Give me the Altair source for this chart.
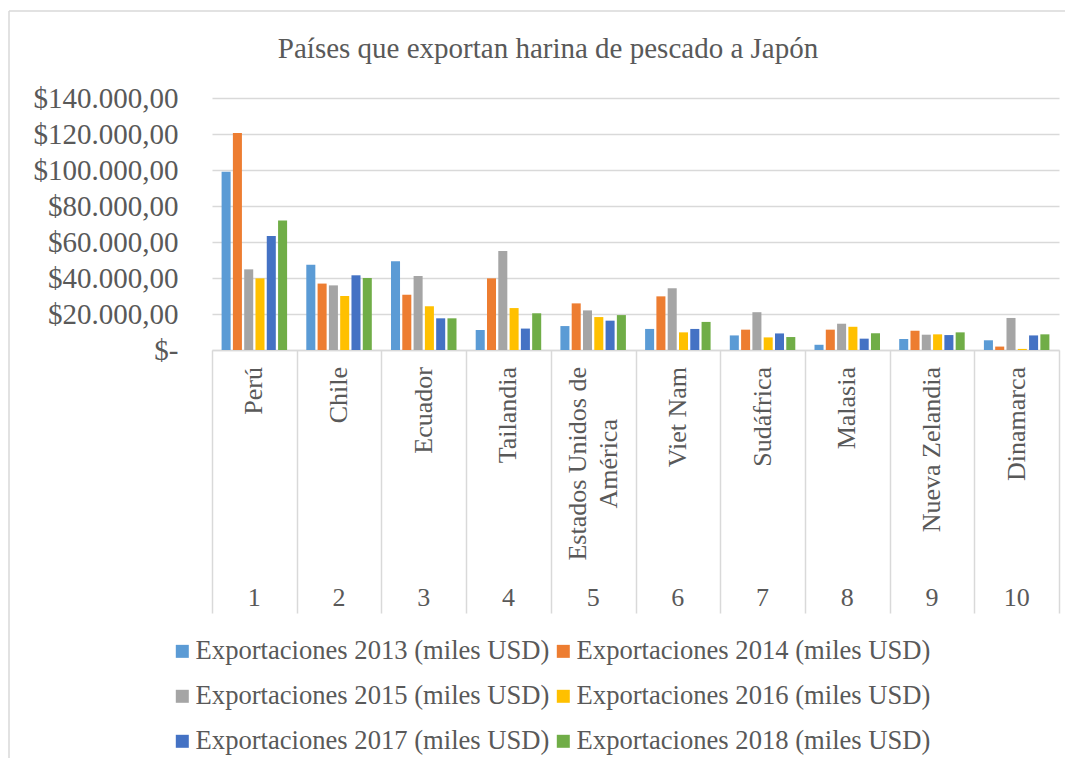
import altair as alt
import pandas as pd

# ---- data ----
ranks = ["1", "2", "3", "4", "5", "6", "7", "8", "9", "10"]
countries = ["Perú", "Chile", "Ecuador", "Tailandia", "Estados Unidos de\nAmérica",
             "Viet Nam", "Sudáfrica", "Malasia", "Nueva Zelandia", "Dinamarca"]
series = ["Exportaciones 2013 (miles USD)", "Exportaciones 2014 (miles USD)",
          "Exportaciones 2015 (miles USD)", "Exportaciones 2016 (miles USD)",
          "Exportaciones 2017 (miles USD)", "Exportaciones 2018 (miles USD)"]
v2013 = [99000, 47400, 49300, 11100, 13300, 11700, 8100, 2900, 6100, 5400]
v2014 = [120500, 36900, 30700, 39800, 25900, 29800, 11300, 11300, 10700, 1900]
v2015 = [44800, 35900, 41100, 55000, 22000, 34300, 21000, 14600, 8500, 17800]
v2016 = [39800, 30000, 24300, 23300, 18300, 9800, 7000, 12900, 8700, 600]
v2017 = [63300, 41500, 17600, 11900, 16300, 11700, 9200, 6300, 8300, 8100]
v2018 = [72000, 40000, 17600, 20400, 19400, 15600, 7200, 9300, 9800, 8700]
colors = ["#5B9BD5", "#ED7D31", "#A5A5A5", "#FFC000", "#4472C4", "#70AD47"]
y_ticks = [0, 20000, 40000, 60000, 80000, 100000, 120000, 140000]
title_text = "Países que exportan harina de pescado a Japón"

rows = []
for s, vals in zip(series, [v2013, v2014, v2015, v2016, v2017, v2018]):
    for r, c, v in zip(ranks, countries, vals):
        rows.append({"rank": r, "serie": s, "valor": v})
df = pd.DataFrame(rows)

lab = pd.DataFrame({
    "rank": ranks,
    "line1": [c.split("\n")[0] for c in countries],
    "line2": [c.split("\n")[1] if "\n" in c else "" for c in countries],
})

W, H = 847, 252
GREY = "#595959"
LINE = "#d9d9d9"
FS = 26
FONT = "Liberation Serif"

x_enc = alt.X(
    "rank:N", sort=ranks,
    scale=alt.Scale(paddingInner=0, paddingOuter=0),
    axis=alt.Axis(labels=False, title=None, tickBand="extent", tickSize=263,
                  tickColor=LINE, tickWidth=1.5, domainColor=LINE, domainWidth=1.5,
                  grid=False),
)

bars = alt.Chart(df).mark_bar().encode(
    x=x_enc,
    xOffset=alt.XOffset("serie:N", sort=series,
                        scale=alt.Scale(paddingInner=0.2, paddingOuter=0.85)),
    y=alt.Y("valor:Q", scale=alt.Scale(domain=[0, 140000], nice=False),
            axis=alt.Axis(values=y_ticks, title=None, domain=False, ticks=False,
                          tickSize=0, labelPadding=34, labelFontSize=29,
                          labelFont=FONT, labelColor=GREY, gridColor=LINE,
                          gridWidth=1.5,
                          labelExpr="datum.value == 0 ? '$-\u00a0\u00a0' : '$' + (datum.value/1000) + '.000,00'")),
    color=alt.Color("serie:N", sort=series,
                    scale=alt.Scale(domain=series, range=colors),
                    legend=alt.Legend(title=None, orient="none", legendX=-43, legendY=540,
                                      columns=2, direction="horizontal",
                                      symbolType="square", symbolSize=169,
                                      symbolStrokeWidth=0, labelFontSize=26.6,
                                      labelFont=FONT, labelColor=GREY,
                                      labelLimit=600, labelOffset=0,
                                      columnPadding=0, rowPadding=18, padding=0)),
)

txt = dict(angle=270, align="right", baseline="middle", fontSize=FS, color=GREY, font=FONT)

single = alt.Chart(lab).transform_filter("datum.line2 == ''").mark_text(**txt).encode(
    x=x_enc, y=alt.value(H + 17), text="line1:N")
double1 = alt.Chart(lab).transform_filter("datum.line2 != ''").mark_text(dy=-15.5, **txt).encode(
    x=x_enc, y=alt.value(H + 17), text="line1:N")
double2 = alt.Chart(lab).transform_filter("datum.line2 != ''").mark_text(
    angle=270, align="center", baseline="middle", fontSize=FS, color=GREY, font=FONT,
    dy=15.5, dx=-96.8).encode(
    x=x_enc, y=alt.value(H + 17), text="line2:N")

numbers = alt.Chart(lab).mark_text(align="center", baseline="middle", fontSize=FS,
                                   color=GREY, font=FONT).encode(
    x=x_enc, y=alt.value(H + 248), text="rank:N")

one = pd.DataFrame({"t": [title_text]})
title = alt.Chart(one).mark_text(align="center", baseline="middle", fontSize=29,
                                 color=GREY, font=FONT).encode(
    x=alt.value(336), y=alt.value(-49), text="t:N")

border_left = alt.Chart(one).mark_rule(color=LINE, strokeWidth=1.5).encode(
    x=alt.value(-203), y=alt.value(-87), y2=alt.value(660))
border_top = alt.Chart(one).mark_rule(color=LINE, strokeWidth=1.5).encode(
    x=alt.value(-203), x2=alt.value(853), y=alt.value(-87))

chart = alt.layer(
    border_left, border_top, bars, single, double1, double2, numbers, title
).properties(
    width=W, height=H,
    padding={"left": 0, "top": 2, "right": 0, "bottom": 0},
).configure(font=FONT).configure_view(strokeWidth=0)

chart.save("out.html", embed_options={"renderer": "svg", "actions": False})
